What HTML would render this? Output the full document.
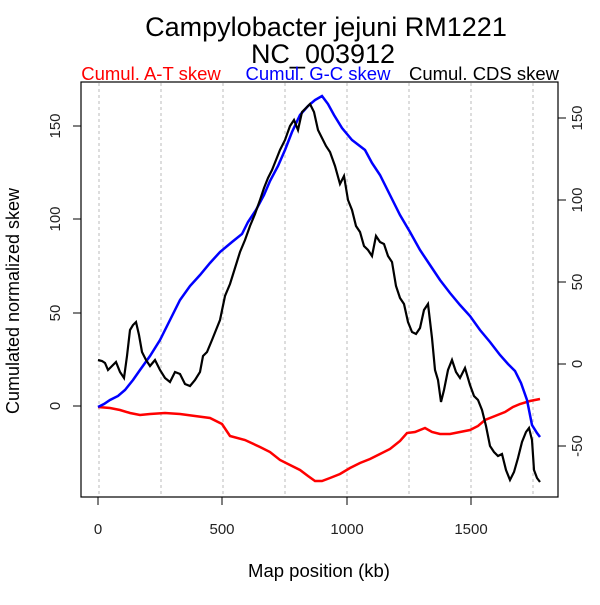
<!DOCTYPE html>
<html><head><style>body{margin:0;background:#fff}</style></head><body>
<svg width="600" height="600" xmlns="http://www.w3.org/2000/svg" font-family="Liberation Sans, sans-serif">
<rect width="600" height="600" fill="#fff"/>
<text x="326" y="36" font-size="27" text-anchor="middle">Campylobacter jejuni RM1221</text>
<text x="323" y="63" font-size="27" text-anchor="middle">NC_003912</text>
<text x="151" y="80" font-size="18.5" fill="#f00" text-anchor="middle">Cumul. A-T skew</text>
<text x="318" y="80" font-size="18.5" fill="#00f" text-anchor="middle">Cumul. G-C skew</text>
<text x="484" y="80" font-size="18.5" fill="#000" text-anchor="middle">Cumul. CDS skew</text>
<g stroke="#bbb" stroke-dasharray="3,3" stroke-width="1">
<line x1="99" y1="83" x2="99" y2="497"/><line x1="161" y1="83" x2="161" y2="497"/><line x1="223" y1="83" x2="223" y2="497"/><line x1="285" y1="83" x2="285" y2="497"/><line x1="347" y1="83" x2="347" y2="497"/><line x1="409" y1="83" x2="409" y2="497"/><line x1="471" y1="83" x2="471" y2="497"/><line x1="533" y1="83" x2="533" y2="497"/>
</g>
<rect x="81" y="82" width="477" height="415" fill="none" stroke="#000" stroke-width="1.2"/>
<g stroke="#000" stroke-width="1">
<line x1="98" y1="497" x2="98" y2="505"/><line x1="222" y1="497" x2="222" y2="505"/><line x1="347" y1="497" x2="347" y2="505"/><line x1="471" y1="497" x2="471" y2="505"/>
<line x1="81" y1="406" x2="73" y2="406"/><line x1="81" y1="313" x2="73" y2="313"/><line x1="81" y1="219" x2="73" y2="219"/><line x1="81" y1="126" x2="73" y2="126"/>
<line x1="558" y1="446" x2="566" y2="446"/><line x1="558" y1="364" x2="566" y2="364"/><line x1="558" y1="282" x2="566" y2="282"/><line x1="558" y1="200" x2="566" y2="200"/><line x1="558" y1="118" x2="566" y2="118"/>
</g>
<g font-size="15" fill="#222" text-anchor="middle">
<text x="98" y="534">0</text><text x="222" y="534">500</text><text x="347" y="534">1000</text><text x="471" y="534">1500</text>
<text transform="translate(60,406) rotate(-90)">0</text><text transform="translate(60,313) rotate(-90)">50</text><text transform="translate(60,219) rotate(-90)">100</text><text transform="translate(60,126) rotate(-90)">150</text>
<text transform="translate(582,446) rotate(-90)">-50</text><text transform="translate(582,364) rotate(-90)">0</text><text transform="translate(582,282) rotate(-90)">50</text><text transform="translate(582,200) rotate(-90)">100</text><text transform="translate(582,118) rotate(-90)">150</text>
</g>
<text x="319" y="577" font-size="18.5" text-anchor="middle">Map position (kb)</text>
<text transform="translate(19,301) rotate(-90)" font-size="18" text-anchor="middle">Cumulated normalized skew</text>
<polyline fill="none" stroke="#f00" stroke-width="2.5" points="98,407 110,408 120,410 130,413 140,415 150,414 165,413 180,414 195,416 210,418 222,424 230,436 245,440 260,447 270,452 280,460 290,465 300,470 308,476 315,481 322,481 330,478 340,474 350,468 360,463 370,459 380,454 390,449 400,441 407,433 415,432 425,428 432,432 440,434 450,434 460,432 470,430 478,426 485,420 495,416 505,412 513,407 520,404 530,401 540,399"/>
<polyline fill="none" stroke="#00f" stroke-width="2.5" points="98,407 104,404 110,400 118,396 125,390 133,380 140,370 150,356 160,340 170,320 180,300 190,286 200,275 210,263 220,252 232,242 242,234 248,222 256,210 264,195 270,181 278,166 285,150 292,132 300,115 308,106 315,100 322,96 328,104 334,115 342,128 352,140 365,150 372,163 380,175 390,195 400,215 410,232 420,250 430,265 440,280 450,293 460,305 470,316 480,330 490,342 500,355 508,364 515,371 521,383 527,400 532,425 537,433 540,437"/>
<polyline fill="none" stroke="#000" stroke-width="2.2" points="98,360 102,361 105,363 108,370 112,366 116,362 120,372 124,378 127,356 130,330 133,325 136,322 139,335 142,352 146,360 150,366 155,360 160,370 165,378 170,382 175,372 180,374 185,384 190,386 195,380 200,372 203,356 207,352 212,340 216,330 220,320 225,296 230,284 235,268 240,252 245,240 250,226 255,214 260,200 264,188 268,178 272,170 276,160 280,150 285,140 290,126 294,120 298,130 302,112 306,108 310,104 314,112 318,130 322,138 326,146 330,152 335,166 340,184 344,176 348,200 352,210 356,226 360,232 364,246 368,250 372,256 376,236 380,242 384,244 388,256 392,262 396,286 400,298 404,304 408,322 412,332 416,334 420,328 424,310 428,304 432,338 435,370 438,380 441,402 444,390 448,370 452,360 456,372 460,378 465,368 470,385 474,396 478,400 482,410 486,426 490,446 494,452 498,456 502,454 506,470 510,480 514,472 518,458 522,442 526,432 529,428 532,440 534,470 537,478 540,482"/>
</svg>
</body></html>
